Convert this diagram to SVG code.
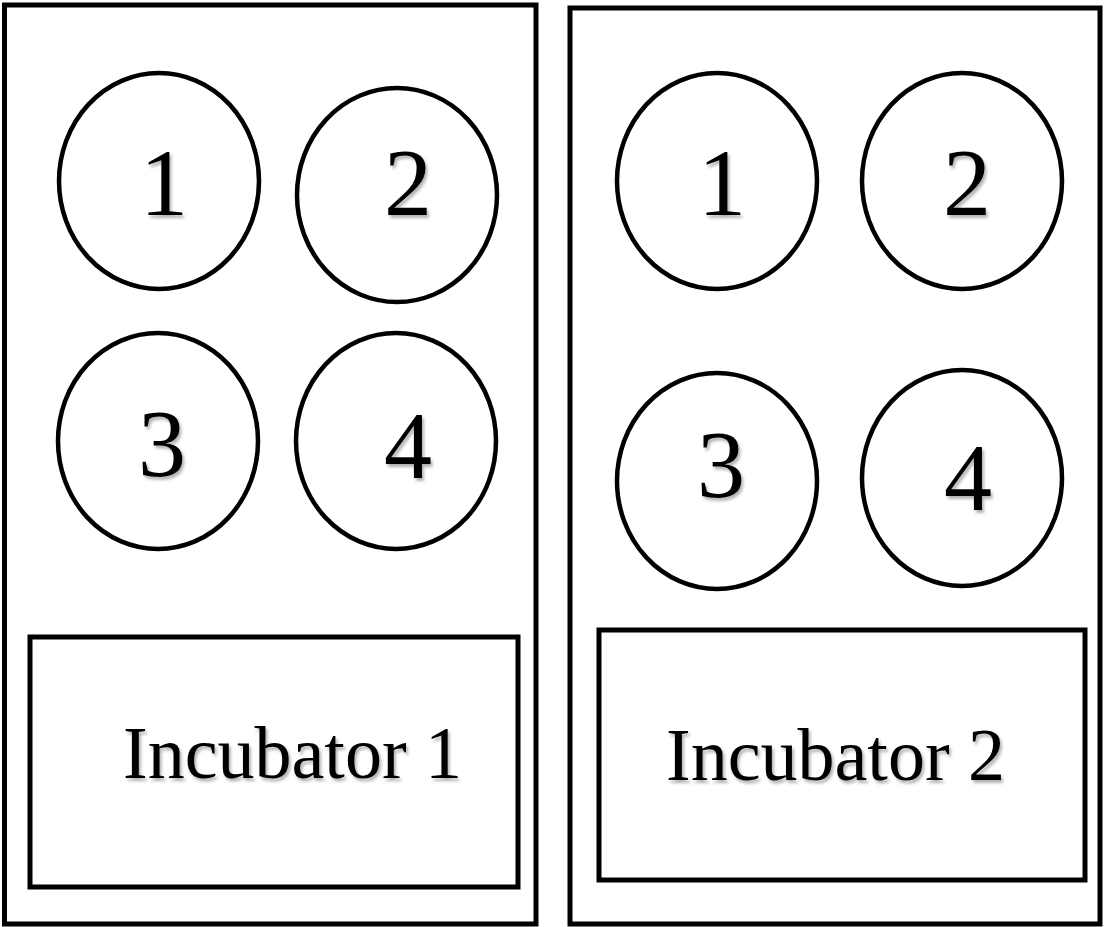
<svg xmlns="http://www.w3.org/2000/svg" width="1104" height="927" viewBox="0 0 1104 927">
<defs>
<filter id="sh" x="-20%" y="-20%" width="140%" height="140%">
<feDropShadow dx="2" dy="3" stdDeviation="1.5" flood-color="#000" flood-opacity="0.3"/>
</filter>
</defs>
<style>
.box{fill:#fff;stroke:#000;stroke-width:5}
.inner{fill:none;stroke:#000;stroke-width:5}
.well{fill:none;stroke:#000;stroke-width:4.5}
.num{font-family:"Liberation Serif","Times New Roman",serif;font-size:96px;fill:#000;text-anchor:middle;filter:url(#sh)}
.lbl{font-family:"Liberation Serif","Times New Roman",serif;font-size:74px;fill:#000;filter:url(#sh)}
</style>
<rect width="1104" height="927" fill="#fff"/>
<g id="incubator1">
<rect class="box" x="4.5" y="5" width="531.5" height="919"/>
<g id="i1-well1"><ellipse class="well" cx="159" cy="181" rx="100" ry="108"/><text class="num" x="164" y="215">1</text></g>
<g id="i1-well2"><ellipse class="well" cx="397" cy="195" rx="100" ry="107"/><text class="num" x="408" y="215">2</text></g>
<g id="i1-well3"><ellipse class="well" cx="158" cy="441" rx="100" ry="108"/><text class="num" x="162" y="476">3</text></g>
<g id="i1-well4"><ellipse class="well" cx="396" cy="441" rx="100" ry="108"/><text class="num" x="408" y="478">4</text></g>
<g id="i1-label"><rect class="inner" x="30" y="637" width="488" height="250"/><text class="lbl" x="123" y="778">Incubator 1</text></g>
</g>
<g id="incubator2">
<rect class="box" x="570" y="8" width="530" height="916"/>
<g id="i2-well1"><ellipse class="well" cx="717" cy="181" rx="100" ry="108"/><text class="num" x="722" y="215">1</text></g>
<g id="i2-well2"><ellipse class="well" cx="962" cy="181" rx="100" ry="108"/><text class="num" x="967" y="215">2</text></g>
<g id="i2-well3"><ellipse class="well" cx="717" cy="481" rx="100" ry="108"/><text class="num" x="721" y="497">3</text></g>
<g id="i2-well4"><ellipse class="well" cx="962" cy="478" rx="100" ry="108"/><text class="num" x="968" y="510">4</text></g>
<g id="i2-label"><rect class="inner" x="599" y="630" width="486" height="250"/><text class="lbl" x="666" y="780">Incubator 2</text></g>
</g>
<g id="connectors"/>
</svg>
